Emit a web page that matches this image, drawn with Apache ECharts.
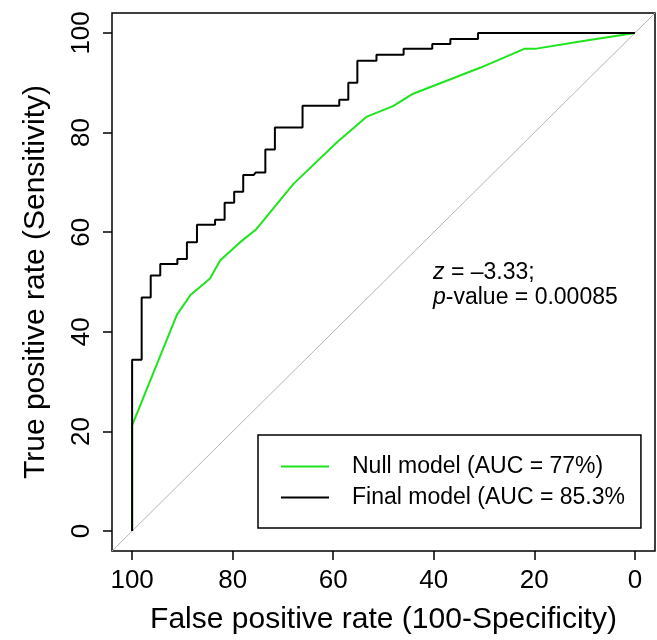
<!DOCTYPE html>
<html>
<head>
<meta charset="utf-8">
<script src="https://cdn.jsdelivr.net/npm/echarts@6/dist/echarts.min.js"></script>
<style>
  html, body { margin: 0; padding: 0; background: #fff; }
  #chart { width: 657px; height: 640px; }
</style>
</head>
<body>
<div id="chart"></div>
<script>
// 刻度
const xTicks = [0, 20, 40, 60, 80, 100];
const yTicks = [0, 20, 40, 60, 80, 100];

// Final model: 特异度 / 敏感度 (阶梯点)
const finalSpec = [100, 100, 98.1, 98.1, 96.3, 96.3, 94.4, 94.4, 91.0, 91.0, 89.1, 89.1, 87.1, 87.1,
  83.5, 83.5, 81.6, 81.6, 79.7, 79.7, 77.9, 77.9, 75.8, 75.4, 73.5, 73.5, 71.6, 71.6, 66.1, 66.1,
  58.8, 58.8, 57.0, 57.0, 55.2, 55.2, 51.4, 51.4, 46.0, 46.0, 40.3, 40.3, 36.7, 36.7, 31.2, 31.2, 0];
const finalSens = [0, 34.4, 34.4, 46.9, 46.9, 51.3, 51.3, 53.6, 53.6, 54.6, 54.6, 58.0, 58.0, 61.5,
  61.5, 62.5, 62.5, 65.9, 65.9, 68.1, 68.1, 71.5, 71.5, 72.0, 72.0, 76.6, 76.6, 81.0, 81.0, 85.4,
  85.4, 86.6, 86.6, 90.0, 90.0, 94.4, 94.4, 95.6, 95.6, 96.8, 96.8, 97.8, 97.8, 98.8, 98.8, 100, 100];

// Null model
const nullSpec = [100, 100, 91.1, 88.4, 84.5, 82.5, 78.5, 75.3, 67.9, 59.3, 53.3, 48.1, 44.1, 30.8, 22.0, 19.9, 10.9, 0];
const nullSens = [0, 21.2, 43.4, 47.4, 50.7, 54.3, 58.0, 60.6, 69.7, 78.0, 83.2, 85.3, 87.8, 93.0, 96.8, 96.8, 98.3, 100];

const names = ['Null model (AUC = 77%)', 'Final model (AUC = 85.3%'];

const font = '"Liberation Sans", Arial, Helvetica, sans-serif';

const zip = (a, b) => a.map((v, i) => [v, b[i]]);

const chart = echarts.init(document.getElementById('chart'));
chart.setOption({
  animation: false,
  grid: {
    left: 112, top: 13, width: 543, height: 541,
    show: true, borderColor: '#000', borderWidth: 1.5, backgroundColor: 'transparent'
  },
  xAxis: {
    type: 'value', inverse: true, min: -4, max: 104,
    name: 'False positive rate (100-Specificity)',
    nameLocation: 'middle', nameGap: 54,
    nameTextStyle: { fontFamily: font, fontSize: 30, color: '#000' },
    axisLine: { show: false, onZero: false },
    splitLine: { show: false },
    axisTick: { show: true, customValues: xTicks, length: 9, lineStyle: { color: '#000', width: 1.5 } },
    axisLabel: { customValues: xTicks, margin: 17, fontFamily: font, fontSize: 26, color: '#000' }
  },
  yAxis: {
    type: 'value', min: -4, max: 104,
    name: 'True positive rate (Sensitivity)',
    nameLocation: 'middle', nameGap: 61, nameRotate: 90,
    nameTextStyle: { fontFamily: font, fontSize: 30, color: '#000' },
    axisLine: { show: false, onZero: false },
    splitLine: { show: false },
    axisTick: { show: true, customValues: yTicks, length: 9, lineStyle: { color: '#000', width: 1.5 } },
    axisLabel: { customValues: yTicks, rotate: 90, margin: 17, fontFamily: font, fontSize: 26, color: '#000' }
  },
  legend: {
    data: names,
    orient: 'vertical',
    left: 258, top: 435,
    padding: [19, 16, 18, 23],
    itemGap: 6,
    icon: 'rect',
    itemWidth: 48, itemHeight: 2,
    borderColor: '#000', borderWidth: 1.5,
    textStyle: { fontFamily: font, fontSize: 23, color: '#000', lineHeight: 25, padding: [0, 0, 0, 18] }
  },
  graphic: [{
    type: 'text', left: 433, top: 260,
    style: {
      text: '{i|z} = \u20133.33;\n{i|p}-value = 0.00085',
      font: '23px ' + font, fill: '#000', lineHeight: 25,
      rich: { i: { fontStyle: 'italic', fontFamily: font, fontSize: 23, lineHeight: 25 } }
    }
  }],
  series: [
    {
      name: 'diag', type: 'line', data: [[104, -4], [-4, 104]],
      symbol: 'none', silent: true, lineStyle: { color: '#b4b4b4', width: 1 }
    },
    {
      name: names[0], type: 'line', data: zip(nullSpec, nullSens),
      symbol: 'none', color: '#1ee41e', lineStyle: { color: '#1ee41e', width: 2 }
    },
    {
      name: names[1], type: 'line', data: zip(finalSpec, finalSens),
      symbol: 'none', color: '#000', lineStyle: { color: '#000', width: 2 }
    }
  ]
});
</script>
</body>
</html>
